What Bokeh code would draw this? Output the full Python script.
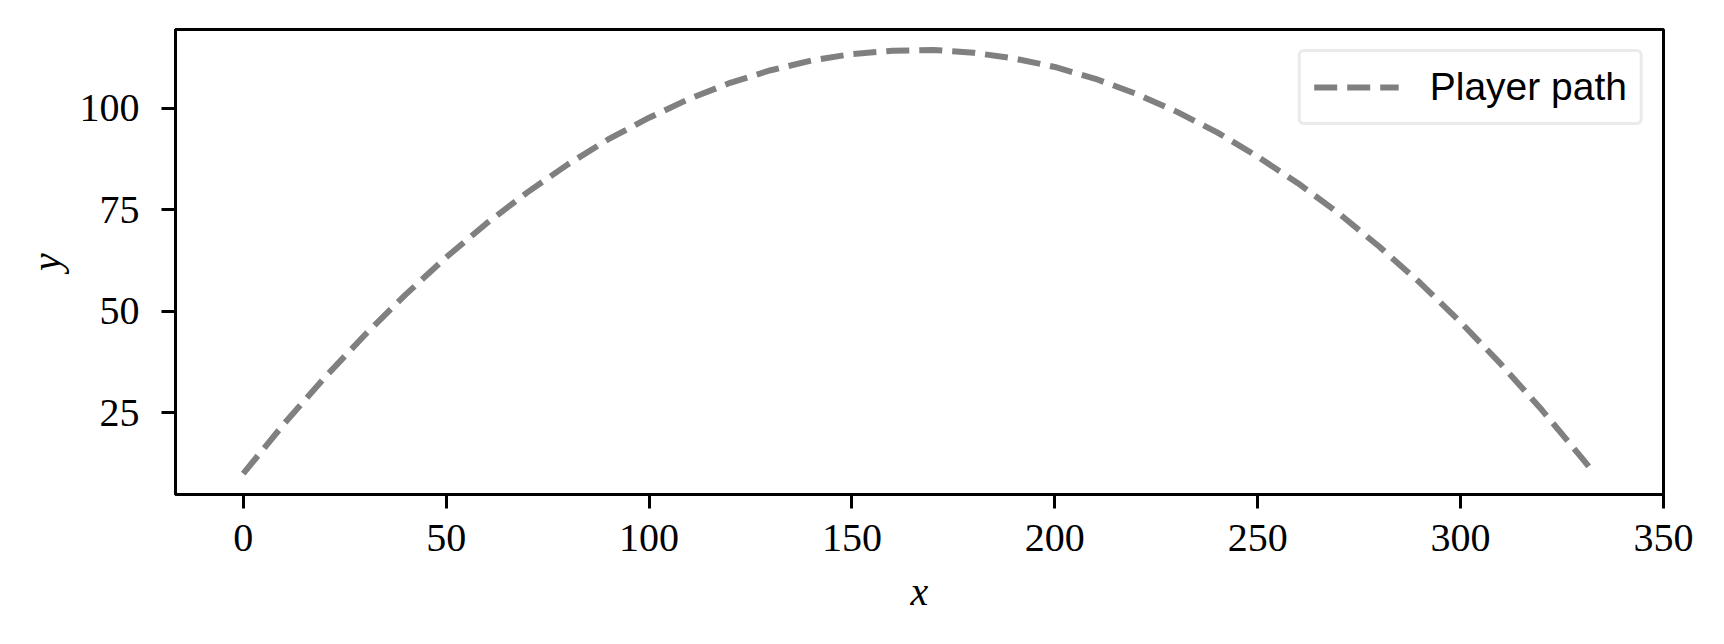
from bokeh.plotting import figure
from bokeh.models import Range1d, FixedTicker, Legend, LegendItem
from bokeh.embed import file_html
from bokeh.resources import INLINE

# Data
path_x = [0, 10, 20, 30, 40, 50, 60, 70, 80, 90, 100, 110, 120, 130, 140, 150, 160,
          170, 180, 190, 200, 210, 220, 230, 240, 250, 260, 270, 280, 290, 300, 310,
          320, 330, 333]
path_y = [10.0, 22.2, 33.6, 44.2, 54.1, 63.3, 71.7, 79.3, 86.2, 92.4, 97.7, 102.4,
          106.3, 109.4, 111.8, 113.4, 114.2, 114.4, 113.7, 112.3, 110.2, 107.3, 103.6,
          99.2, 94.1, 88.1, 81.5, 74.1, 65.9, 57.0, 47.3, 36.9, 25.7, 13.7, 10.0]
x_ticks = [0, 50, 100, 150, 200, 250, 300, 350]
y_ticks = [25, 50, 75, 100]
series_name = "Player path"

W, H = 1708, 628
p = figure(width=W, height=H, output_backend="svg", toolbar_location=None,
           x_range=Range1d(-16.7, 350), y_range=Range1d(4.84, 119.44),
           min_border_left=175, min_border_right=45, min_border_top=29,
           min_border_bottom=134)
p.grid.visible = False
p.outline_line_color = "black"
p.outline_line_width = 3
p.background_fill_color = "white"
p.border_fill_color = "white"

r = p.line(path_x, path_y, line_color="#808080", line_width=6, line_dash="23 10")

for ax, ticks in ((p.xaxis[0], x_ticks), (p.yaxis[0], y_ticks)):
    ax.ticker = FixedTicker(ticks=ticks)
    ax.minor_tick_line_color = None
    ax.major_tick_in = 0
    ax.major_tick_out = 14
    ax.major_tick_line_width = 3
    ax.axis_line_width = 3
    ax.axis_line_color = "black"
    ax.major_tick_line_color = "black"
    ax.major_label_text_font = "Liberation Serif"
    ax.major_label_text_font_size = "40px"
    ax.major_label_text_color = "black"
    ax.axis_label_text_font = "Liberation Serif"
    ax.axis_label_text_font_style = "italic"
    ax.axis_label_text_font_size = "40px"
    ax.axis_label_text_color = "black"

p.xaxis.axis_label = "x"
p.yaxis.axis_label = "y"
p.xaxis.major_label_standoff = 16
p.yaxis.major_label_standoff = 22
p.xaxis.axis_label_standoff = 15
p.yaxis.axis_label_standoff = 8

legend = Legend(items=[LegendItem(label=series_name, renderers=[r])],
                location="top_right", margin=20, padding=13, spacing=0,
                glyph_width=85, glyph_height=44, label_standoff=31,
                label_text_font="Liberation Sans", label_text_font_size="39px",
                label_text_color="black",
                border_line_color="#d6d6d6", border_line_width=3,
                border_radius=6, background_fill_color="white",
                background_fill_alpha=0.8)
p.add_layout(legend, "center")

open("out.html", "w").write(file_html(p, INLINE))
